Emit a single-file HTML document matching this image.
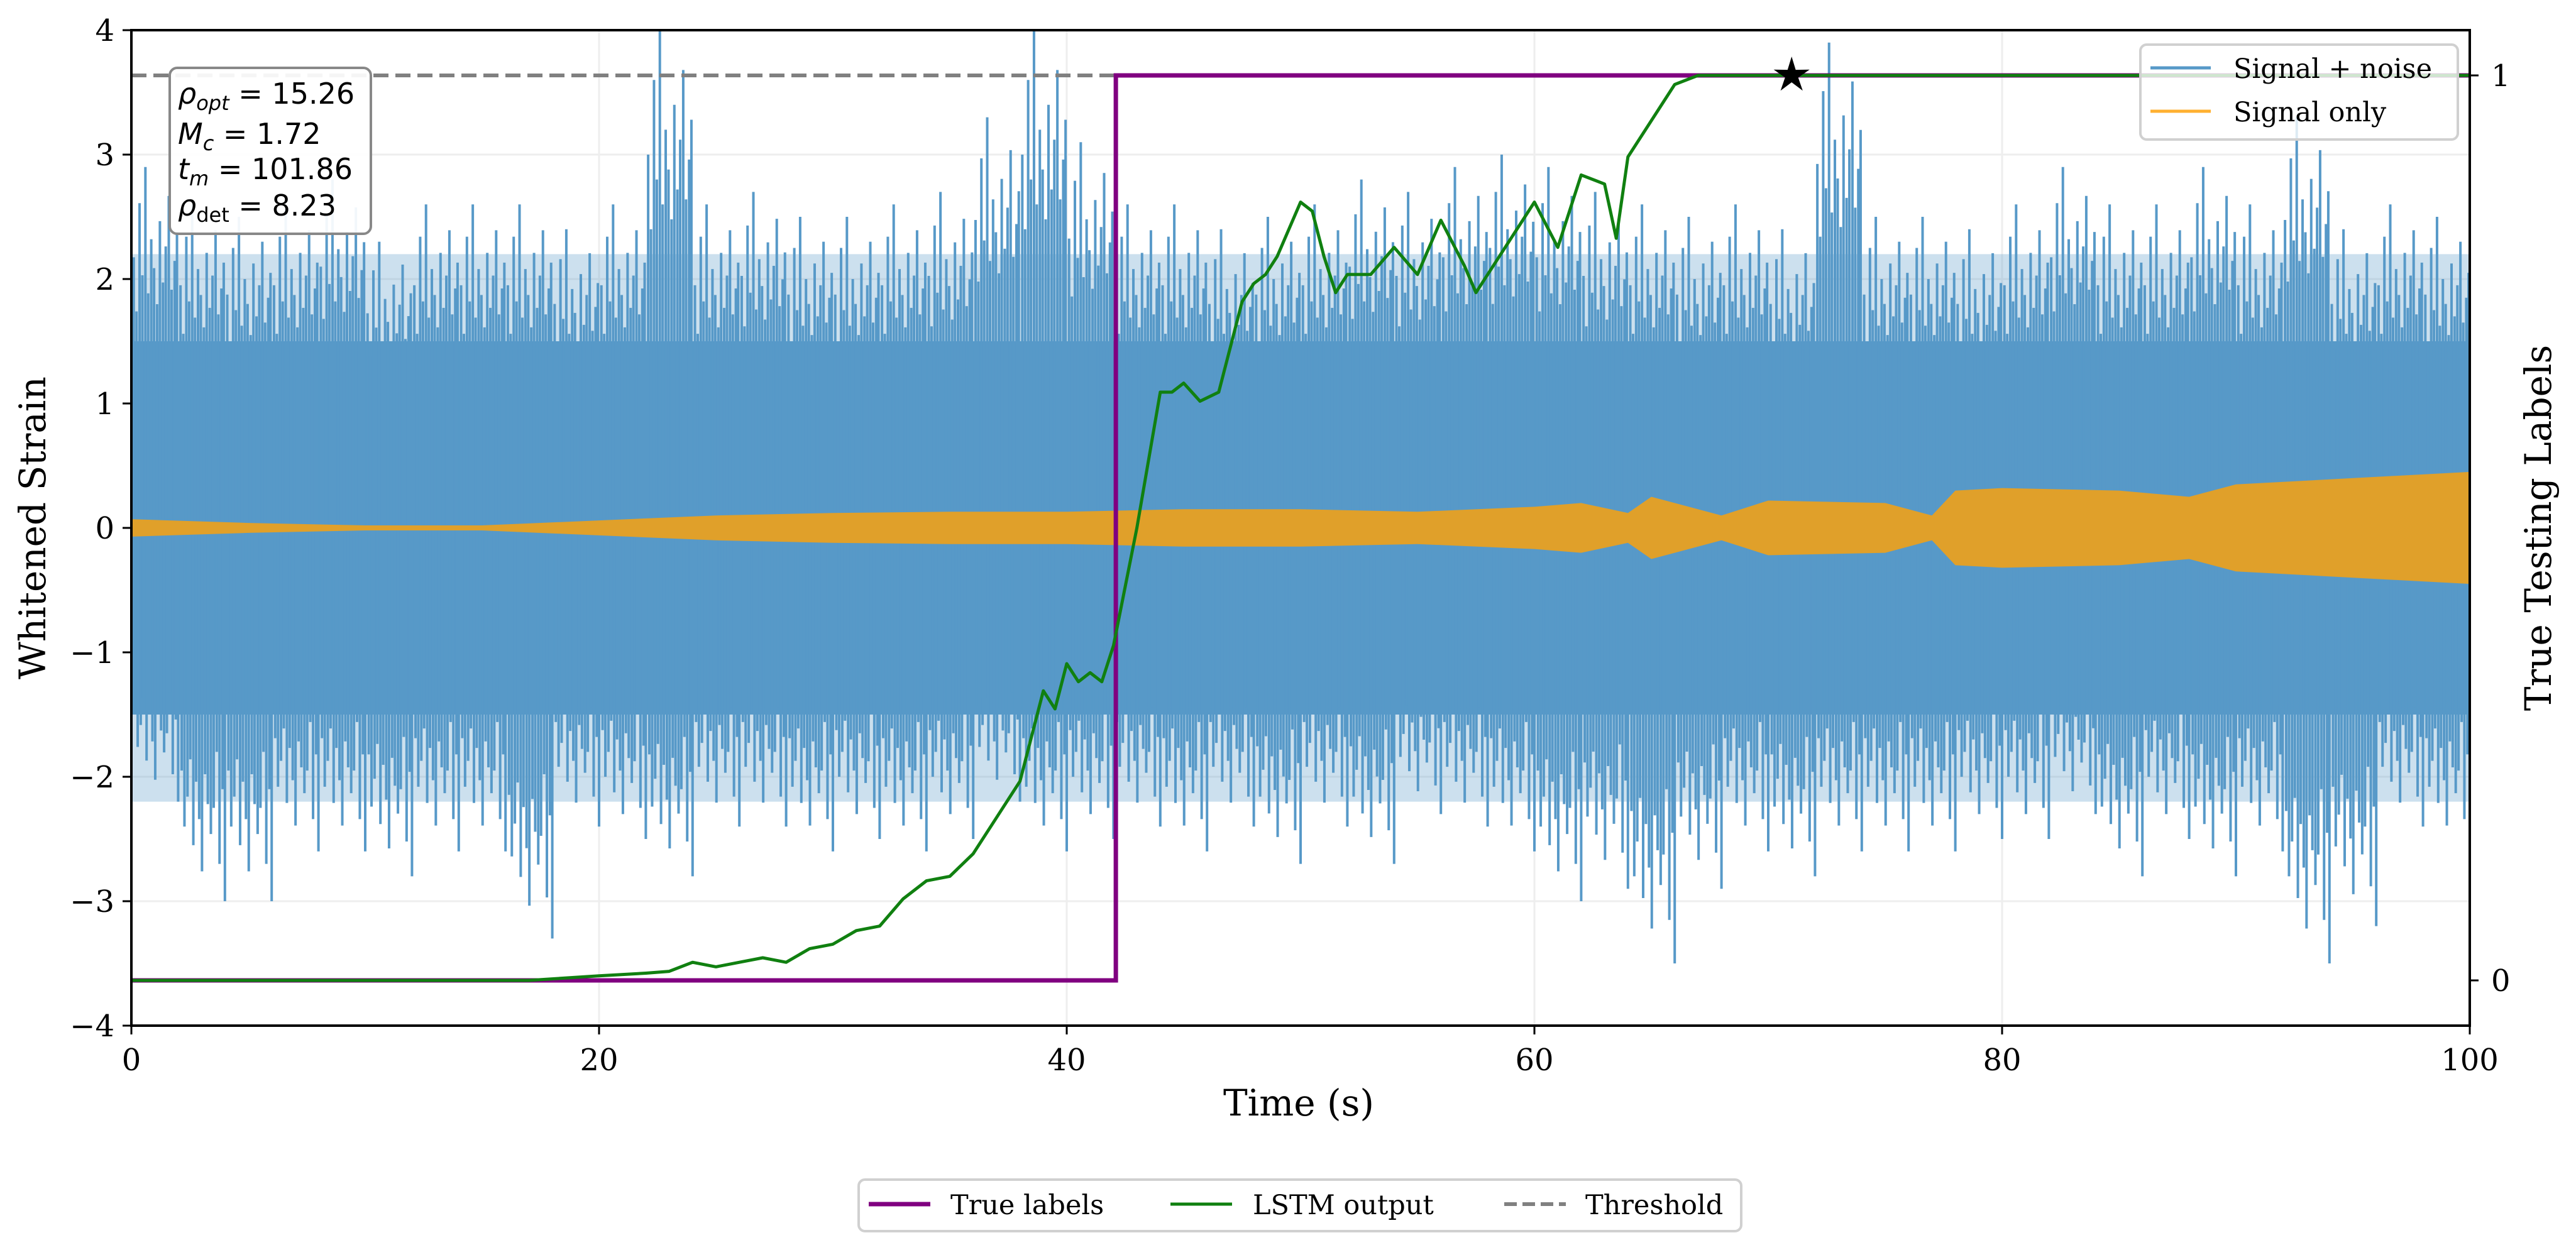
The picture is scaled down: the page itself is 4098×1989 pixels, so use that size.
<!DOCTYPE html>
<html><head><meta charset="utf-8"><style>
html,body{margin:0;padding:0;background:#fff}
svg{display:block}
text{font-family:"DejaVu Serif","Liberation Serif",serif}
</style></head><body>
<svg id="chart" width="4098" height="1989" viewBox="0 0 4098 1989" xmlns="http://www.w3.org/2000/svg">
<g id="grid"></g>
<g id="noise"></g>
<g id="signal"></g>
<g id="overlay"></g>
<g id="axes"></g>
</svg>
<script>
const tStart=[0,2,4,6,8,10,12,14,16,18,20,22,24,26,28,30,32,34,36,38,40,42,44,46,48,50,52,54,56,58,60,62,64,66,68,70,72,74,76,78,80,82,84,86,88,90,92,94,96,98];
const noiseHi=[2.9,2.6,2.5,2.6,2.8,2.3,2.6,2.6,2.6,2.4,2.6,4.0,2.6,2.7,2.5,2.5,2.6,2.7,3.3,4.0,3.1,2.6,2.6,2.4,2.5,2.6,2.8,2.7,2.9,3.0,2.9,2.7,2.6,2.5,2.6,2.4,3.9,2.5,2.5,2.4,2.6,2.9,2.6,2.6,2.9,2.6,3.3,2.4,2.6,2.5];
const noiseLo=[-2.2,-3.0,-3.0,-2.6,-2.6,-2.8,-2.6,-2.6,-3.3,-2.4,-2.5,-2.8,-2.4,-2.4,-2.6,-2.5,-2.6,-2.5,-2.2,-2.6,-2.5,-2.4,-2.6,-2.4,-2.7,-2.4,-2.7,-2.3,-2.4,-2.6,-3.0,-2.9,-3.5,-2.9,-2.6,-2.8,-2.6,-2.6,-2.6,-2.5,-2.5,-2.3,-2.8,-2.5,-2.8,-2.6,-3.5,-3.2,-2.4,-2.6];
const sigT=[0,5,10,15,20,25,30,35,40,45,50,55,60,62,64,65,68,70,75,77,78,80,85,88,90,95,100];
const sigAmp=[0.07,0.04,0.02,0.02,0.06,0.1,0.12,0.13,0.13,0.15,0.15,0.13,0.17,0.2,0.12,0.25,0.1,0.22,0.2,0.1,0.3,0.32,0.3,0.25,0.35,0.4,0.45];
const lstmT=[0,17,20,22,23,24,25,26,27,28,29,30,31,32,33,34,35,36,37,38,38.5,39,39.5,40,40.5,41,41.5,42,43,44,44.5,45,45.7,46.5,47,47.5,48,48.5,49,50,50.5,51,51.5,52,53,54,55,56,57,57.5,58,59,60,61,62,63,63.5,64,65,66,67,100];
const lstmV=[0,0,0.005,0.008,0.01,0.02,0.015,0.02,0.025,0.02,0.035,0.04,0.055,0.06,0.09,0.11,0.115,0.14,0.18,0.22,0.27,0.32,0.3,0.35,0.33,0.34,0.33,0.37,0.5,0.65,0.65,0.66,0.64,0.65,0.7,0.75,0.77,0.78,0.8,0.86,0.85,0.8,0.76,0.78,0.78,0.81,0.78,0.84,0.79,0.76,0.78,0.82,0.86,0.81,0.89,0.88,0.82,0.91,0.95,0.99,1.0,1.0];
const labelT=[0,42.1,42.1,100];
const labelV=[0,0,1,1];
const threshold=1.0;
const peakT=71.0, peakV=1.0;
const xTicks=[0,20,40,60,80,100];
const yTicks=[-4,-3,-2,-1,0,1,2,3,4];
const y2Ticks=[0,1];

const L=209,R=3929,T=48,B=1632;
const X=t=>L+(t-0)/(100-0)*(R-L);
const Y=v=>B-(v+4)/8*(B-T);
const Y2=v=>B-(v+0.05)/1.1*(B-T);
const NS="http://www.w3.org/2000/svg";
function mk(parent,tag,attrs,txt){const e=document.createElementNS(NS,tag);for(const k in attrs)e.setAttribute(k,attrs[k]);if(txt!==undefined)e.textContent=txt;document.getElementById(parent).appendChild(e);return e;}

xTicks.forEach(t=>{const g=mk('grid','line',{x1:X(t),x2:X(t),y1:T,y2:B,stroke:'#eeeeee','stroke-width':3});

});
yTicks.forEach(v=>{const g=mk('grid','line',{x1:L,x2:R,y1:Y(v),y2:Y(v),stroke:'#eeeeee','stroke-width':3});

});

const blue='#5799c8';
let fr='M'+X(0)+','+Y(2.2)+' L'+X(100)+','+Y(2.2)+' L'+X(100)+','+Y(-2.2)+' L'+X(0)+','+Y(-2.2)+'Z';
const fb=mk('noise','path',{d:fr,fill:blue,opacity:0.3});


let core='M'+X(0)+','+Y(1.5)+' L'+X(100)+','+Y(1.5)+' L'+X(100)+','+Y(-1.5)+' L'+X(0)+','+Y(-1.5)+'Z';
const cb=mk('noise','path',{d:core,fill:blue});


const offs=[0.1,0.22,0.35,0.47,0.6,0.72,0.85,0.97,1.1,1.22,1.35,1.47,1.6,1.72,1.85,1.95];
const fracs=[0.75,0.6,0.9,0.7,1.0,0.65,0.8,0.72,0.62,0.85,0.68,0.78,0.92,0.66,0.74,0.82];
let sp='';
tStart.forEach((t,i)=>{
  const hi=noiseHi[i],lo=noiseLo[i];
  offs.forEach((o,k)=>{
    const f=fracs[k];
    sp+='M'+X(t+o)+','+Y(0)+'V'+Y(hi*f);
    const f2=fracs[(k+5)%fracs.length];
    sp+='M'+X(t+o+0.05)+','+Y(0)+'V'+Y(lo*f2);
  });
});
const spk=mk('noise','path',{d:sp,stroke:blue,'stroke-width':4,fill:'none'});



let sigTop='',sigBot='';
sigT.forEach((t,i)=>{sigTop+=(i?'L':'M')+X(t)+','+Y(sigAmp[i]);});
for(let i=sigT.length-1;i>=0;i--){sigBot+='L'+X(sigT[i])+','+Y(-sigAmp[i]);}
const sb=mk('signal','path',{d:sigTop+sigBot+'Z',fill:'#e0a02a'});



const th=mk('overlay','line',{x1:L,x2:R,y1:Y2(threshold),y2:Y2(threshold),stroke:'#808080','stroke-width':6,'stroke-dasharray':'24 11'});


let lp='';labelT.forEach((t,i)=>{lp+=(i?'L':'M')+X(t)+','+Y2(labelV[i]);});
const tl=mk('overlay','path',{d:lp,stroke:'#800080','stroke-width':7,fill:'none'});


let sp2='';lstmT.forEach((t,i)=>{sp2+=(i?'L':'M')+X(t)+','+Y2(lstmV[i]);});
const ls=mk('overlay','path',{d:sp2,stroke:'#108010','stroke-width':5,fill:'none','stroke-linejoin':'round'});


const sx=X(peakT),sy=Y2(peakV);let st='';
for(let k=0;k<10;k++){const r=k%2?11:30;const a=-Math.PI/2+k*Math.PI/5;st+=(k?'L':'M')+(sx+r*Math.cos(a))+','+(sy+r*Math.sin(a));}
const star=mk('overlay','path',{d:st+'Z',fill:'#000'});



const fr2=mk('axes','rect',{x:L,y:T,width:R-L,height:B-T,fill:'none',stroke:'#000','stroke-width':4});


xTicks.forEach(t=>{
  const tk=mk('axes','line',{x1:X(t),x2:X(t),y1:B,y2:B+14,stroke:'#000','stroke-width':3});
  
  
  const lb=mk('axes','text',{x:X(t),y:1703,'font-size':48,'text-anchor':'middle'},String(t));
  
  
});
yTicks.forEach(v=>{
  const tk=mk('axes','line',{x1:L-14,x2:L,y1:Y(v),y2:Y(v),stroke:'#000','stroke-width':3});
  
  
  const lb=mk('axes','text',{x:182,y:Y(v)+17,'font-size':48,'text-anchor':'end'},v<0?'\u2212'+(-v):String(v));
  
  
});
y2Ticks.forEach(v=>{
  const tk=mk('axes','line',{x1:R,x2:R+14,y1:Y2(v),y2:Y2(v),stroke:'#000','stroke-width':3});
  
  
  const lb=mk('axes','text',{x:3963,y:Y2(v)+17,'font-size':48},String(v));
  
  
});
</script>
<svg style="position:absolute;left:0;top:0" width="4098" height="1989">
<text x="2066" y="1775" font-size="58" text-anchor="middle" style="font-family:'DejaVu Serif',serif">Time (s)</text>
<text transform="translate(72,840) rotate(-90)" font-size="58" text-anchor="middle" style="font-family:'DejaVu Serif',serif">Whitened Strain</text>
<text transform="translate(4058,840) rotate(-90)" font-size="58" text-anchor="middle" style="font-family:'DejaVu Serif',serif">True Testing Labels</text>
<g>
<rect x="270" y="108" width="320" height="264" rx="12" fill="#fff" fill-opacity="0.92" stroke="#888" stroke-width="4"/>
<text x="283" y="165" font-size="46" style="font-family:'DejaVu Sans',sans-serif"><tspan font-style="italic">ρ</tspan><tspan font-size="32" dy="10" font-style="italic">opt</tspan><tspan dy="-10"> = 15.26</tspan></text>
<text x="283" y="229" font-size="46" style="font-family:'DejaVu Sans',sans-serif"><tspan font-style="italic">M</tspan><tspan font-size="32" dy="10" font-style="italic">c</tspan><tspan dy="-10"> = 1.72</tspan></text>
<text x="283" y="285" font-size="46" style="font-family:'DejaVu Sans',sans-serif"><tspan font-style="italic">t</tspan><tspan font-size="32" dy="10" font-style="italic">m</tspan><tspan dy="-10"> = 101.86</tspan></text>
<text x="283" y="343" font-size="46" style="font-family:'DejaVu Sans',sans-serif"><tspan font-style="italic">ρ</tspan><tspan font-size="32" dy="10">det</tspan><tspan dy="-10"> = 8.23</tspan></text>
</g>
<g>
<rect x="3405" y="71" width="505" height="151" rx="10" fill="#fff" fill-opacity="0.8" stroke="#d0d0d0" stroke-width="4"/>
<line x1="3421" x2="3517" y1="108" y2="108" stroke="#5799c8" stroke-width="5"/>
<text x="3553" y="124" font-size="43" style="font-family:'DejaVu Serif',serif">Signal + noise</text>
<line x1="3421" x2="3517" y1="177" y2="177" stroke="#ffb030" stroke-width="5"/>
<text x="3553" y="193" font-size="43" style="font-family:'DejaVu Serif',serif">Signal only</text>
</g>
<g>
<rect x="1366" y="1877" width="1404" height="82" rx="10" fill="#fff" stroke="#d0d0d0" stroke-width="4"/>
<line x1="1382" x2="1480" y1="1916" y2="1916" stroke="#800080" stroke-width="7"/>
<text x="1512" y="1932" font-size="43" style="font-family:'DejaVu Serif',serif">True labels</text>
<line x1="1862" x2="1960" y1="1916" y2="1916" stroke="#108010" stroke-width="5"/>
<text x="1993" y="1932" font-size="43" style="font-family:'DejaVu Serif',serif">LSTM output</text>
<line x1="2393" x2="2491" y1="1916" y2="1916" stroke="#808080" stroke-width="6" stroke-dasharray="20 9"/>
<text x="2522" y="1932" font-size="43" style="font-family:'DejaVu Serif',serif">Threshold</text>
</g>
</svg>
</body></html>
